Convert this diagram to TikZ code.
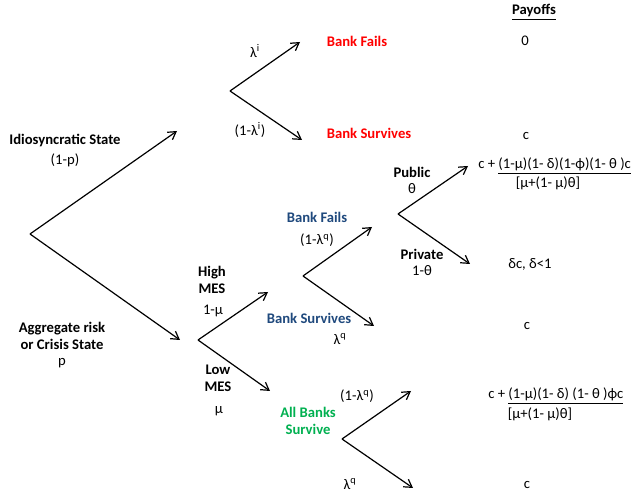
\documentclass[tikz,border=0pt]{standalone}
\usepackage{fontspec}
\setmainfont{Carlito}
\usepackage{xcolor}
\usetikzlibrary{arrows.meta}
\definecolor{FailRed}{RGB}{255,0,0}
\definecolor{BankBlue}{RGB}{31,73,125}
\definecolor{SafeGreen}{RGB}{0,176,80}

\begin{document}
\begin{tikzpicture}[x=0.75pt,y=0.75pt,
    branch/.style={-{Straight Barb[length=2mm,width=2.4mm]}, line width=0.9pt},
    lbl/.style={font=\fontsize{11}{13}\selectfont, align=center, inner sep=0pt},
    blbl/.style={lbl, font=\fontsize{11}{13}\selectfont\bfseries},
    pay/.style={lbl, anchor=west}
  ]
    \useasboundingbox (0,0) rectangle (634,491);
    % branch points (y measured from the bottom)
    \coordinate (root) at (30,257);
    \coordinate (idio) at (230,400);
    \coordinate (aggr) at (198,151);
    \coordinate (hfail) at (303,215);
    \coordinate (pub) at (398,277);
    \coordinate (allb) at (342,52);
    % arrow ends
    \coordinate (idioE) at (177,360);
    \coordinate (aggrE) at (180,151);
    \coordinate (ifailE) at (300,449);
    \coordinate (isurvE) at (302,351);
    \coordinate (highE) at (268,199);
    \coordinate (lowE) at (270,100);
    \coordinate (hfailE) at (372,264);
    \coordinate (hsurvE) at (374,165);
    \coordinate (pubE) at (468,325);
    \coordinate (privE) at (470,227);
    \coordinate (asurv1E) at (411,100);
    \coordinate (asurv2E) at (413,3);
    \draw[branch] (root) -- (idioE);
    \draw[branch] (root) -- (aggrE);
    \draw[branch] (idio) -- (ifailE);
    \draw[branch] (idio) -- (isurvE);
    \draw[branch] (aggr) -- (highE);
    \draw[branch] (aggr) -- (lowE);
    \draw[branch] (hfail) -- (hfailE);
    \draw[branch] (hfail) -- (hsurvE);
    \draw[branch] (pub) -- (pubE);
    \draw[branch] (pub) -- (privE);
    \draw[branch] (allb) -- (asurv1E);
    \draw[branch] (allb) -- (asurv2E);
    % states
    \node[blbl] (idstate) at (65,350) {Idiosyncratic State};
    \node[lbl] (idp) at (65,331) {(1-p)};
    \node[blbl] (agstate) at (62,155) {Aggregate risk\\or Crisis State};
    \node[lbl] (agp) at (62,128) {p};
    \node[lbl] (lami) at (255,440) {λ\textsuperscript{i}};
    \node[lbl] (lami2) at (250,361) {(1-λ\textsuperscript{i})};
    \node[blbl] (high) at (212,211) {High\\MES};
    \node[lbl] (highmu) at (213,180) {1-µ};
    \node[blbl] (low) at (218,113) {Low\\MES};
    \node[lbl] (lowmu) at (219,80) {µ};
    % outcomes
    \node[blbl, text=FailRed] (ifail) at (357,450) {Bank Fails};
    \node[blbl, text=FailRed] (isurv) at (369,358) {Bank Survives};
    \node[blbl, text=BankBlue] (hfailt) at (317,274) {Bank Fails};
    \node[lbl] (lamq1) at (317,251) {(1-λ\textsuperscript{q})};
    \node[blbl, text=BankBlue] (hsurvt) at (309,173) {Bank Survives};
    \node[lbl] (lamq2) at (340,152) {λ\textsuperscript{q}};
    \node[blbl, text=SafeGreen] (allbt) at (308,70) {All Banks\\Survive};
    \node[lbl] (lamq3) at (357,95) {(1-λ\textsuperscript{q})};
    \node[lbl] (lamq4) at (350,7) {λ\textsuperscript{q}};
    \node[blbl] (public) at (412,319) {Public};
    \node[lbl] (pth) at (412,302) {θ};
    \node[blbl] (private) at (422,237) {Private};
    \node[lbl] (pvth) at (422,220) {1-θ};
    % payoffs
    \node[blbl] (payoffs) at (534,479) {\underline{Payoffs}};
    \node[lbl] (pay0) at (525,450) {0};
    \node[lbl] (payc1) at (526,355) {c};
    \node[pay] (pay1) at (478,325) {c + \underline{(1-µ)(1- δ)(1-ϕ)(1- θ )c}};
    \node[lbl] (pay1d) at (548,308) {[µ+(1- µ)θ]};
    \node[lbl] (pay2) at (530,227) {δc, δ<1};
    \node[lbl] (payc2) at (527,165) {c};
    \node[pay] (pay3) at (488,95) {c + \underline{(1-µ)(1- δ) (1- θ )ϕc}};
    \node[lbl] (pay3d) at (540,77) {[µ+(1- µ)θ]};
    \node[lbl] (payc3) at (527,6) {c};
  \end{tikzpicture}
\end{document}
